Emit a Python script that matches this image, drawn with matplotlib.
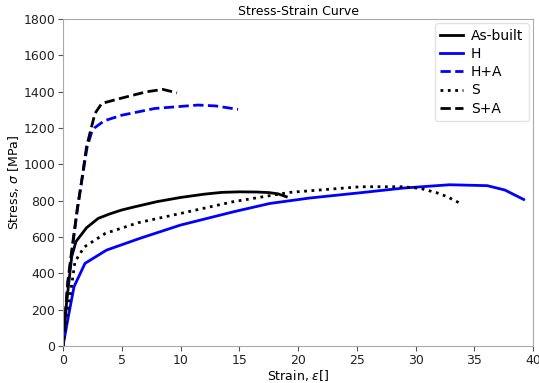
import matplotlib
matplotlib.use("Agg")
import matplotlib.pyplot as plt

# Engineering stress-strain data (strain in %, stress in MPa)
asbuilt_strain = [0, 0.3, 0.74, 1.1, 2.0, 3.0, 4.0, 5.0, 6.0, 8.0, 10.0, 12.0, 13.5, 15.0, 16.5, 17.5, 18.3, 19.0]
asbuilt_stress = [0, 236, 492, 575, 651, 703, 728, 749, 765, 795, 818, 836, 846, 849, 848, 845, 838, 822]

h_strain = [0, 0.45, 0.94, 1.87, 3.7, 6.55, 10.0, 14.5, 17.6, 21.0, 25.3, 29.0, 32.9, 36.1, 37.6, 39.2]
h_stress = [0, 161, 327, 455, 528, 593, 666, 739, 785, 815, 844, 870, 888, 883, 859, 807]

ha_strain = [0, 0.42, 0.78, 1.22, 1.62, 2.05, 2.45, 2.7, 3.5, 5.0, 7.8, 11.5, 13.0, 14.9]
ha_stress = [0, 350, 530, 750, 920, 1095, 1180, 1202, 1240, 1271, 1308, 1327, 1322, 1303]

s_strain = [0, 0.31, 1.02, 1.8, 3.6, 6.4, 10.7, 14.5, 19.3, 25.3, 28.9, 30.4, 31.8, 32.7, 33.7]
s_stress = [0, 143, 464, 545, 620, 679, 740, 795, 846, 877, 877, 868, 844, 822, 789]

sa_strain = [0, 0.4, 0.75, 1.2, 1.6, 2.0, 2.4, 2.72, 3.3, 4.85, 7.1, 8.5, 9.7]
sa_stress = [0, 350, 530, 750, 915, 1097, 1200, 1281, 1336, 1363, 1400, 1413, 1394]

xticks = [0, 5, 10, 15, 20, 25, 30, 35, 40]
yticks = [0, 200, 400, 600, 800, 1000, 1200, 1400, 1600, 1800]

plt.rcParams["font.family"] = ["DejaVu Sans"]
fig = plt.figure(figsize=(5.39, 3.83), dpi=100)
ax = fig.add_axes([0.1169, 0.0966, 0.8721, 0.8534])

lw = 2.0
ax.plot(asbuilt_strain, asbuilt_stress, color="black", lw=lw, ls="-", label="As-built")
ax.plot(h_strain, h_stress, color="blue", lw=lw, ls="-", label="H")
ax.plot(ha_strain, ha_stress, color="blue", lw=lw, ls="--", label="H+A")
ax.plot(s_strain, s_stress, color="black", lw=lw, ls=":", label="S")
ax.plot(sa_strain, sa_stress, color="black", lw=lw, ls="--", label="S+A")

ax.set_xlim(0, 40)
ax.set_ylim(0, 1800)
ax.set_xticks(xticks)
ax.set_yticks(yticks)

fs = 9
ax.set_title("Stress-Strain Curve", fontsize=fs, pad=3)
ax.set_xlabel(r"Strain, $\epsilon$[]", fontsize=fs, labelpad=1)
ax.set_ylabel(r"Stress, $\sigma$ [MPa]", fontsize=fs, labelpad=2)
ax.tick_params(labelsize=fs, colors="#555555", labelcolor="#222222", length=3.5, pad=2)
for sp in ax.spines.values():
    sp.set_color("#aaaaaa")

leg = ax.legend(loc="upper right", fontsize=10, frameon=True, handlelength=1.6,
                handletextpad=0.6, borderaxespad=0.3, labelspacing=0.3,
                borderpad=0.4)
leg.get_frame().set_edgecolor("#dddddd")

fig.savefig("out.png", dpi=100)
